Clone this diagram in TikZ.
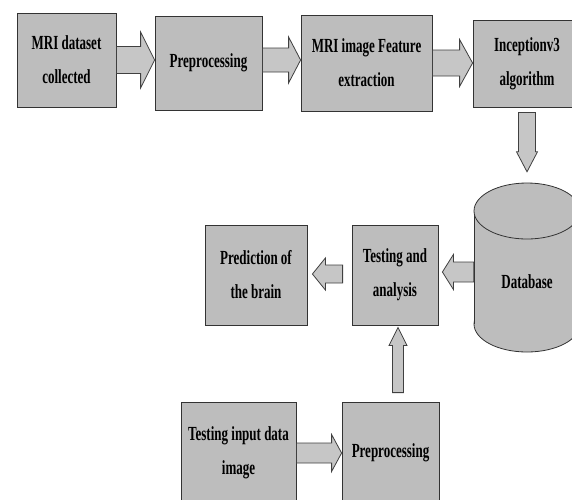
\documentclass[tikz,border=0pt]{standalone}
\usepackage{fontspec}
\newfontfamily\boxfont[FakeStretch=0.65]{Liberation Serif}
\usetikzlibrary{calc}
\definecolor{boxgray}{RGB}{189,189,189}
\definecolor{arrowgray}{RGB}{198,198,198}
% fat block arrow: shaft half width, head half width, head length, from, to
\newcommand{\fatarrow}[5]{%
  \draw[arrow_style] let \p1=#4, \p2=#5,
    \n1={veclen(\x2-\x1,\y2-\y1)}, \n2={atan2(\y2-\y1,\x2-\x1)} in
    [shift={(\p1)}, rotate=\n2]
    (0,-#1) -- (\n1-#3,-#1) -- (\n1-#3,-#2) -- (\n1,0) -- (\n1-#3,#2) -- (\n1-#3,#1) -- (0,#1) -- cycle;}
\begin{document}
\begin{tikzpicture}
        [x=1pt, y=-1pt,
         box_style/.style={rectangle,draw=black!80,line width=0.8pt,fill=boxgray,align=center,inner sep=0pt,
           font=\boxfont\bfseries\fontsize{20}{34}\selectfont},
         db_style/.style={draw=black!80,line width=0.8pt,fill=boxgray},
         db_text/.style={align=center,inner sep=0pt,font=\boxfont\bfseries\fontsize{20}{34}\selectfont},
         arrow_style/.style={draw=black!75,line width=0.8pt,fill=arrowgray}]
            \useasboundingbox (0,0) rectangle (572,499);
            \node[box_style, minimum width=99, minimum height=94] (b1) at (66.5, 60) {MRI dataset\\collected};
            \node[box_style, minimum width=107, minimum height=94] (b2) at (208.5, 63) {Preprocessing};
            \node[box_style, minimum width=131, minimum height=96] (b3) at (366.5, 63) {MRI image Feature\\extraction};
            \node[box_style, minimum width=108, minimum height=87] (b4) at (527, 63.5) {Inceptionv3\\algorithm};
            \node[box_style, minimum width=102, minimum height=100] (pred) at (256, 275) {Prediction of\\the brain};
            \node[box_style, minimum width=86, minimum height=100] (ta) at (395, 275) {Testing and\\analysis};
            \node[box_style, minimum width=115, minimum height=102] (tin) at (238.5, 453) {Testing input data\\image};
            \node[box_style, minimum width=97, minimum height=102] (pre2) at (390.5, 453) {Preprocessing};
            % database cylinder
            \draw[db_style] (527,324) ellipse [x radius=53, y radius=28];
            \fill[boxgray] (474,211) rectangle (580,324);
            \draw[db_style, fill=none] (474,211) -- (474,324) (580,211) -- (580,324);
            \draw[db_style] (527,211) ellipse [x radius=53, y radius=28];
            \node[db_text, minimum width=106, minimum height=141] (db) at (527, 281.5) {Database};
            % arrows
            \fatarrow{13.5}{28}{14}{(b1.east)}{(b1.east -| b2.west)}
            \fatarrow{12}{23}{12}{([yshift=3pt]b2.east)}{([yshift=3pt]b2.east -| b3.west)}
            \fatarrow{13}{23.5}{13}{(b3.east)}{(b3.east -| b4.west)}
            \fatarrow{8.5}{10.5}{20}{([yshift=-5pt]b4.south)}{([yshift=39pt]db.north)}
            \fatarrow{10}{17.5}{11}{([yshift=9.5pt]db.west)}{([xshift=4pt,yshift=3pt]ta.east)}
            \fatarrow{9}{16}{13}{([xshift=-9pt,yshift=1pt]ta.west)}{([xshift=5pt,yshift=1pt]pred.east)}
            \fatarrow{5.5}{9}{18}{([xshift=7.5pt,yshift=9pt]pre2.north)}{([xshift=3pt,yshift=-2pt]ta.south)}
            \fatarrow{10}{18.5}{10}{(tin.east)}{(tin.east -| pre2.west)}
        \end{tikzpicture}
\end{document}
